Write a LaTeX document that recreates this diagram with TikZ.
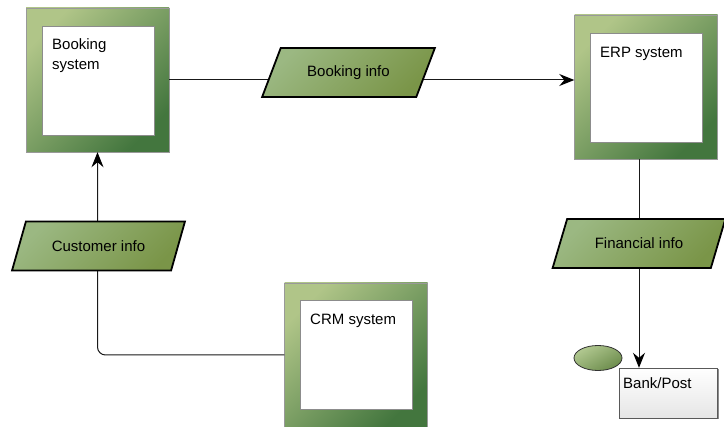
\documentclass[tikz,border=0pt]{standalone}
\usepackage{fontspec}
\setmainfont{Liberation Sans}
\usetikzlibrary{shapes.geometric,arrows.meta}
\definecolor{gLight}{HTML}{B0C588}
\definecolor{gDark}{HTML}{43763E}
\definecolor{pLight}{HTML}{9BB882}
\definecolor{pDark}{HTML}{7A9548}
\definecolor{eLight}{HTML}{B2C991}
\definecolor{eDark}{HTML}{6C8C4C}
\begin{document}
\begin{tikzpicture}[x=1pt,y=-1pt,
  font=\fontsize{15}{20}\selectfont,
  sysouter/.style={draw=black!40, top color=gLight, bottom color=gDark, shading angle=45,
    minimum width=143, minimum height=144, inner sep=0},
  sysinner/.style={draw=black!45, fill=white, minimum width=112, minimum height=109, inner sep=0},
  syslabel/.style={anchor=north west, inner sep=0, align=left},
  datapar/.style={trapezium, trapezium left angle=51, trapezium right angle=129,
    trapezium stretches=true, draw=black, line width=1.8pt,
    top color=pLight, bottom color=pDark, shading angle=45,
    minimum width=173, minimum height=49, inner sep=0},
  conn/.style={draw=black!90, line width=1pt},
  tip/.style={-{Stealth[length=15pt,width=12pt,inset=5pt,black]}}
]
\useasboundingbox (0,0) rectangle (724,427);
% system boxes
\node[sysouter] (bs) at (97.5,80) {};
\node[sysinner] (bsin) at (98,80.5) {};
\node[syslabel] (bst) at (52,38) {Booking\\system};
\node[sysouter] (erp) at (646,87) {};
\node[sysinner] (erpin) at (646,87.5) {};
\node[syslabel] (erpt) at (600,47) {ERP system};
\node[sysouter] (crm) at (356,355) {};
\node[sysinner] (crmin) at (356,355) {};
\node[syslabel] (crmt) at (310,314) {CRM system};
% connectors below data shapes
\draw[conn,tip] (bs.east) -- (bs.east -| erp.west);
\draw[conn,tip,rounded corners=8] (crm.west) -| (bs.south);
% data shapes
\node[datapar] (bi) at (348.5,72.5) {Booking info};
\node[datapar] (ci) at (98.5,246) {Customer info};
\node[datapar] (fi) at (639,243.5) {Financial info};
% bank
\node[fill=black!45, minimum width=98, minimum height=50, inner sep=0] (bankshadow) at (669.5,394.5) {};
\node[draw=black!65, top color=white, bottom color=black!10, minimum width=98, minimum height=50, inner sep=0] (bank) at (668,393) {};
\node[syslabel] (bankt) at (623,377) {Bank/Post};
\node[ellipse, draw=black!80, line width=0.8pt, top color=eLight, bottom color=eDark, shading angle=30, minimum width=48, minimum height=25, inner sep=0] (el) at (598,358) {};
% financial connectors
\draw[conn] (erp.south -| fi.north) -- (fi.north);
\draw[conn,tip] (fi.south) -- (fi.south |- bank.north);
\end{tikzpicture}
\end{document}
